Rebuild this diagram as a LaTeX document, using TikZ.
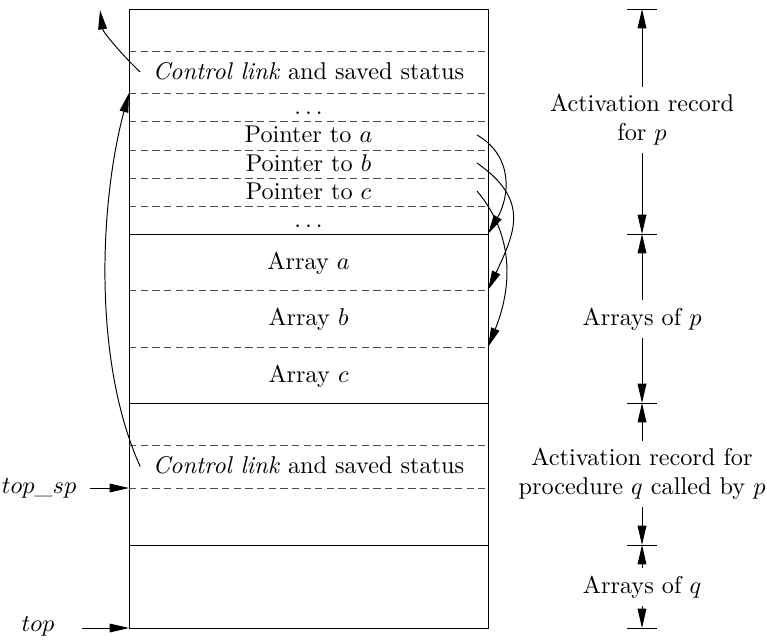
\documentclass[tikz,border=0pt]{standalone}
\usetikzlibrary{arrows.meta}

\begin{document}
\begin{tikzpicture}[x=0.0145cm,y=0.0145cm,
  cell/.style={text height=1.6ex,text depth=.25ex,inner sep=2pt},
  sepline/.style={black!70,dash pattern=on 3pt off 1.8pt},
  arr/.style={-{Triangle[length=8pt,width=3.6pt]}},
  dimlbl/.style={align=center,inner sep=3pt}]
  \useasboundingbox (0,0) rectangle (767,-643);

  % stack frame
  \draw (129,-9) rectangle (488,-628);
  \foreach \y in {51,93,121,150,178,206,290,347,445,488}
    \draw[sepline] (129,-\y) -- (488,-\y);
  \foreach \y in {234,403,545}
    \draw (129,-\y) -- (488,-\y);

  \node[cell] (cl1) at (308.5,-72) {\textit{Control link} and saved status};
  \node[cell] (dots1) at (308.5,-107) {$\dots$};
  \node[cell] (pta) at (308.5,-135.5) {Pointer to $a$};
  \node[cell] (ptb) at (308.5,-164) {Pointer to $b$};
  \node[cell] (ptc) at (308.5,-192) {Pointer to $c$};
  \node[cell] (dots2) at (308.5,-220) {$\dots$};
  \node[cell] (arra) at (308.5,-262) {Array $a$};
  \node[cell] (arrb) at (308.5,-318.5) {Array $b$};
  \node[cell] (arrc) at (308.5,-375) {Array $c$};
  \node[cell] (cl2) at (308.5,-466.5) {\textit{Control link} and saved status};

  % pointers into the arrays
  \coordinate (pa) at (477,-135);
  \coordinate (pb) at (477,-163);
  \coordinate (pc) at (477,-191);
  \coordinate (aa) at (488,-234);
  \coordinate (ab) at (488,-290);
  \coordinate (ac) at (488,-347);
  \draw[arr] (pa) to[out=-30,in=60,looseness=1.1] (aa);
  \draw[arr] (pb) to[out=-35,in=65,looseness=1.3] (ab);
  \draw[arr] (pc) to[out=-50,in=68] (ac);

  % control links
  \coordinate (cl1from) at ([xshift=-3pt]cl1.west);
  \coordinate (cl1to) at (100,-10);
  \coordinate (cl2from) at ([xshift=-3pt]cl2.west);
  \coordinate (cl2to) at (129,-93);
  \draw[arr] (cl1from) .. controls (122,-55) and (103,-32) .. (cl1to);
  \draw[arr] (cl2from) .. controls (92,-360) and (100,-200) .. (cl2to);

  % top_sp and top
  \node (topsp) at (39,-488) {$top\_sp$};
  \node (top) at (38,-626) {$top$};
  \coordinate (spin) at (129,-488);
  \coordinate (topin) at (129,-628);
  \draw[arr,shorten <=2pt] (topsp.east) -- (spin);
  \draw[arr,shorten <=8pt] (top.east |- topin) -- (topin);

  % extents on the right
  \foreach \y/\name in {9/t1,234/t2,403/t3,545/t4,628/t5} {
    \draw (627,-\y) -- (657,-\y);
    \coordinate (\name) at (642,-\y);
  }
  \node[dimlbl] (actp) at (642,-120) {Activation record\\for $p$};
  \node[dimlbl] (arrp) at (642,-319) {Arrays of $p$};
  \node[dimlbl] (actq) at (642,-474) {Activation record for\\procedure $q$ called by $p$};
  \node[dimlbl] (arrq) at (642,-587) {Arrays of $q$};
  \draw[arr] (actp) -- (t1);
  \draw[arr] (actp) -- (t2);
  \draw[arr] (arrp) -- (t2);
  \draw[arr] (arrp) -- (t3);
  \draw[arr] (actq) -- (t3);
  \draw[arr] (actq) -- (t4);
  \draw[arr] (arrq) -- (t4);
  \draw[arr] (arrq) -- (t5);
\end{tikzpicture}
\end{document}
